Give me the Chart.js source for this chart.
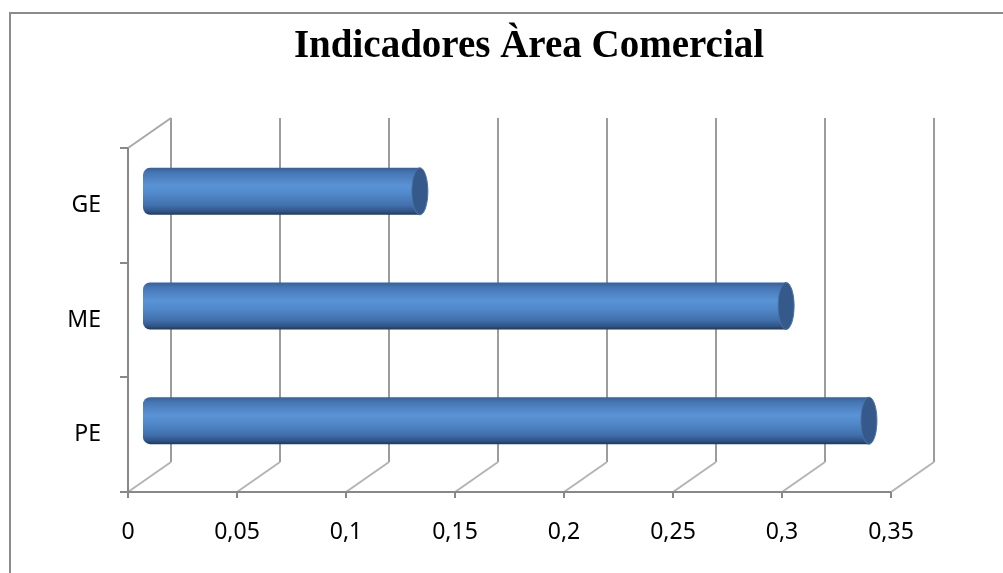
<!DOCTYPE html>
<html>
<head>
<meta charset="utf-8">
<script src="https://cdn.jsdelivr.net/npm/chart.js@4"></script>
<style>
  html, body { margin: 0; padding: 0; background: #fff; }
  #wrap { width: 1003px; height: 573px; }
</style>
</head>
<body>
<div id="wrap"><canvas id="myChart" width="1003" height="573"></canvas></div>
<script>
// datos del grafico
var categorias = ['GE', 'ME', 'PE'];
var valores = [0.127, 0.295, 0.333];
var ticksX = [0, 0.05, 0.1, 0.15, 0.2, 0.25, 0.3, 0.35];
var titulo = 'Indicadores Àrea Comercial';

// profundidad 3D (pared de fondo) y posicion de las barras
var DX = 43, DY = -30;
var BX = 15, BY = -14;

function formatoComa(v){
  return String(Math.round(v * 100) / 100).replace('.', ',');
}

function gradienteBarra(c){
  var chart = c.chart;
  var ys = chart.scales.y;
  if (!ys || c.dataIndex === undefined) return '#4f81bd';
  var cy = ys.getPixelForValue(c.dataIndex);
  var h = (ys.bottom - ys.top) / categorias.length * 0.41;
  if (!isFinite(cy) || !isFinite(h) || h <= 0) return '#4f81bd';
  var g = chart.ctx.createLinearGradient(0, cy - h / 2, 0, cy + h / 2);
  g.addColorStop(0, '#35609a');
  g.addColorStop(0.1, '#4675b3');
  g.addColorStop(0.38, '#5a93d6');
  g.addColorStop(0.55, '#5189cb');
  g.addColorStop(0.8, '#4170ac');
  g.addColorStop(0.93, '#2f5486');
  g.addColorStop(1, '#1f3858');
  return g;
}

var marco3d = {
  id: 'marco3d',
  afterLayout: function(chart){
    // centrar el titulo como en el original
    var tb = chart.titleBlock;
    if (tb) {
      var shift = 529 - (tb.left + tb.right) / 2;
      tb.left += shift;
      tb.right += shift;
    }
  },
  beforeDraw: function(chart){
    var ctx = chart.ctx;
    ctx.save();
    ctx.strokeStyle = '#8c8c8c';
    ctx.lineWidth = 2;
    ctx.beginPath();
    ctx.moveTo(10, 600);
    ctx.lineTo(10, 13);
    ctx.lineTo(1010, 13);
    ctx.stroke();
    ctx.restore();
  },
  beforeDatasetsDraw: function(chart){
    var ctx = chart.ctx;
    var a = chart.chartArea;
    var xs = chart.scales.x;
    ctx.save();
    ctx.lineWidth = 2;

    // lineas del fondo y del suelo
    ticksX.forEach(function(v){
      var x = Math.round(xs.getPixelForValue(v));
      ctx.strokeStyle = '#9c9c9c';
      ctx.beginPath();
      ctx.moveTo(x + DX, a.top + DY);
      ctx.lineTo(x + DX, a.bottom + DY);
      ctx.stroke();
      ctx.strokeStyle = '#b4b4b4';
      ctx.beginPath();
      ctx.moveTo(x, a.bottom);
      ctx.lineTo(x + DX, a.bottom + DY);
      ctx.stroke();
      // marcas del eje x
      ctx.strokeStyle = '#888';
      ctx.beginPath();
      ctx.moveTo(x, a.bottom);
      ctx.lineTo(x, a.bottom + 6);
      ctx.stroke();
    });

    // pared izquierda
    ctx.strokeStyle = '#a8a8a8';
    ctx.beginPath();
    ctx.moveTo(a.left, a.top);
    ctx.lineTo(a.left + DX, a.top + DY);
    ctx.stroke();

    ctx.strokeStyle = '#888';
    ctx.beginPath();
    ctx.moveTo(a.left, a.top);
    ctx.lineTo(a.left, a.bottom);
    ctx.lineTo(a.right, a.bottom);
    ctx.stroke();

    // marcas del eje de categorias
    var paso = (a.bottom - a.top) / categorias.length;
    for (var i = 0; i <= categorias.length; i++) {
      var y = Math.round(a.top + i * paso);
      ctx.beginPath();
      ctx.moveTo(a.left - 8, y);
      ctx.lineTo(a.left, y);
      ctx.stroke();
    }
    ctx.restore();

    // las barras van a media profundidad
    ctx.save();
    ctx.translate(BX, BY);
  },
  afterDatasetsDraw: function(chart){
    var ctx = chart.ctx;
    var meta = chart.getDatasetMeta(0);
    meta.data.forEach(function(bar){
      var ry = bar.height / 2;
      ctx.beginPath();
      ctx.ellipse(bar.x, bar.y, 8, ry, 0, 0, Math.PI * 2);
      ctx.fillStyle = '#35598a';
      ctx.fill();
      ctx.strokeStyle = '#4a72a6';
      ctx.lineWidth = 1;
      ctx.stroke();
    });
    ctx.restore();
  }
};

var ctx = document.getElementById('myChart').getContext('2d');
var myChart = new Chart(ctx, {
  type: 'bar',
  data: {
    labels: categorias,
    datasets: [{
      data: valores,
      backgroundColor: gradienteBarra,
      borderWidth: 0,
      borderSkipped: false,
      borderRadius: { topLeft: 7, bottomLeft: 7, topRight: 0, bottomRight: 0 },
      barPercentage: 0.41,
      categoryPercentage: 1,
      clip: false
    }]
  },
  options: {
    indexAxis: 'y',
    responsive: false,
    animation: false,
    layout: { padding: { top: 0, right: 112, bottom: 0, left: 0 } },
    plugins: {
      legend: { display: false },
      tooltip: { enabled: false },
      title: {
        display: true,
        text: titulo,
        color: '#000',
        font: { family: 'Liberation Serif', size: 39, weight: 'bold', lineHeight: 1.2 },
        padding: { top: 24, bottom: 77.2 }
      }
    },
    scales: {
      x: {
        type: 'linear',
        min: 0,
        max: 0.35,
        afterFit: function(s){ s.height = 81; },
        afterBuildTicks: function(s){
          s.ticks = ticksX.map(function(v){ return { value: v }; });
        },
        grid: { display: false, drawTicks: false },
        border: { display: false },
        ticks: {
          padding: 27,
          color: '#000',
          font: { family: 'Noto Sans', size: 23 },
          maxRotation: 0,
          callback: function(v){ return formatoComa(v); }
        }
      },
      y: {
        afterFit: function(s){ s.width = 128; },
        grid: { display: false, drawTicks: false },
        border: { display: false },
        ticks: {
          padding: 27,
          color: '#000',
          font: { family: 'Noto Sans', size: 23 }
        }
      }
    }
  },
  plugins: [marco3d]
});
</script>
</body>
</html>
